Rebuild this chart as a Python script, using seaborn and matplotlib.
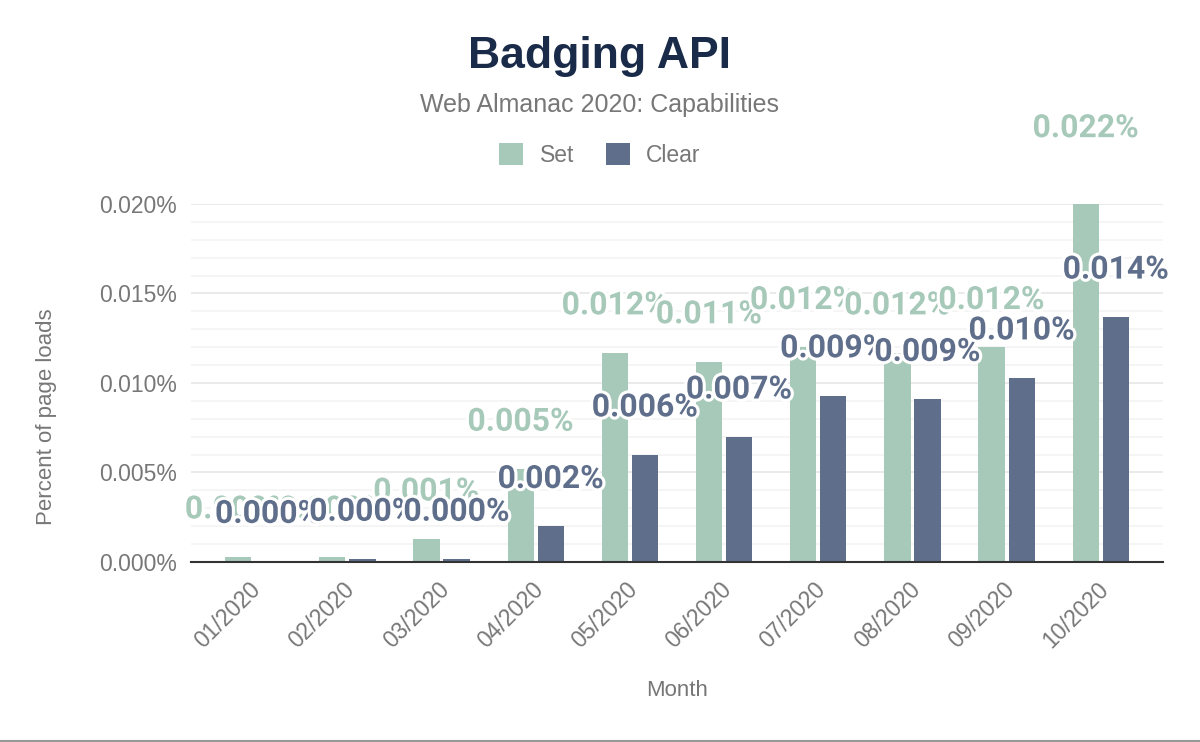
import matplotlib
matplotlib.use("Agg")
import matplotlib.pyplot as plt
import matplotlib.patheffects as pe
from matplotlib.ticker import MultipleLocator, FuncFormatter
from matplotlib.transforms import ScaledTranslation
import seaborn as sns
import pandas as pd

# ---- data ----
months = ["01/2020", "02/2020", "03/2020", "04/2020", "05/2020",
          "06/2020", "07/2020", "08/2020", "09/2020", "10/2020"]
set_values = [0.0003, 0.0003, 0.0013, 0.0052, 0.0117, 0.0112, 0.0120, 0.0117, 0.0120, 0.0216]
clear_values = [0.00005, 0.00017, 0.00017, 0.0020, 0.0060, 0.0070, 0.0093, 0.0091, 0.0103, 0.0137]
series_names = ["Set", "Clear"]

title = "Badging API"
subtitle = "Web Almanac 2020: Capabilities"
x_label = "Month"
y_label = "Percent of page loads"

colors = {"Set": "#a7c9b9", "Clear": "#5f6f8b"}
grey = "#777777"

df = pd.DataFrame({
    "Month": months * 2,
    "Series": ["Set"] * len(months) + ["Clear"] * len(months),
    "Value": set_values + clear_values,
})

sns.set_theme(style="white")
plt.rcParams["font.family"] = ["Liberation Sans", "DejaVu Sans"]

W, H = 1200, 742
fig = plt.figure(figsize=(W / 100, H / 100), dpi=100)
ax = fig.add_axes([191 / W, 1 - 562 / H, (1163 - 191) / W, (562 - 204) / H])

sns.barplot(data=df, x="Month", y="Value", hue="Series", hue_order=series_names,
            palette=colors, width=0.64, gap=0.13, saturation=1, ax=ax,
            linewidth=0, zorder=3)

ax.set_ylim(0, 0.020)
ax.set_xlim(-0.66, 9.66)

ax.yaxis.set_major_locator(MultipleLocator(0.005))
ax.yaxis.set_minor_locator(MultipleLocator(0.001))
ax.yaxis.set_major_formatter(FuncFormatter(lambda v, p: f"{v:.3f}%"))
ax.grid(axis="y", which="major", color="#e6e6e6", linewidth=1.2, zorder=0)
ax.grid(axis="y", which="minor", color="#f3f3f3", linewidth=1.2, zorder=0)
ax.grid(axis="x", visible=False)
ax.set_axisbelow(True)

for s in ["top", "right", "left"]:
    ax.spines[s].set_visible(False)
ax.spines["bottom"].set_color("#333333")
ax.spines["bottom"].set_linewidth(1.5)
ax.spines["bottom"].set_zorder(4)

ax.tick_params(axis="y", which="both", length=0, labelsize=16.5, labelcolor=grey, pad=10)
ax.tick_params(axis="x", length=0, labelsize=16.5, labelcolor=grey, pad=17)
for lab in ax.get_xticklabels():
    lab.set_rotation(45)
    lab.set_ha("right")
    lab.set_va("center")
    lab.set_rotation_mode("anchor")
    lab.set_transform(lab.get_transform() + ScaledTranslation(4 / 100, 0, fig.dpi_scale_trans))

ax.set_xlabel(x_label, fontsize=16, color=grey, labelpad=0)
ax.xaxis.set_label_coords(0.5, -(690 - 562) / (562 - 204))
ax.xaxis.label.set_va("center")
ax.set_ylabel(y_label, fontsize=16, color=grey)
ax.yaxis.set_label_coords(-(191 - 47) / (1163 - 191), (562 - 417) / (562 - 204))
ax.yaxis.label.set_va("center")

# data labels
halo = [pe.withStroke(linewidth=4.5, foreground="white")]
for i, (name, vals) in enumerate(zip(series_names, [set_values, clear_values])):
    cont = ax.containers[i]
    for patch, v in zip(cont.patches, vals):
        cx = patch.get_x() + patch.get_width() / 2
        ax.annotate(f"{v:.3f}%", xy=(cx, v), xytext=(0, 27.5), textcoords="offset points",
                    ha="center", va="baseline", fontsize=23, fontweight="bold",
                    family=["Roboto", "DejaVu Sans"], color=colors[name],
                    path_effects=halo, zorder=10 + i, annotation_clip=False)

# legend
handles, labels = ax.get_legend_handles_labels()
if ax.legend_ is not None:
    ax.legend_.remove()
fig.legend(handles, labels, loc="center", bbox_to_anchor=(0.5, 1 - 155 / H), ncol=2,
           frameon=False, fontsize=16.5, labelcolor=grey, handlelength=1.05, handleheight=1.05,
           handletextpad=0.7, columnspacing=1.4)

fig.text(0.5, 1 - 68 / H, title, ha="center", va="baseline", fontsize=32,
         fontweight="bold", color="#1a2b49")
fig.text(0.5, 1 - 112 / H, subtitle, ha="center", va="baseline", fontsize=18, color=grey)

fig.add_artist(plt.Line2D([0, 1], [1 / H, 1 / H], color="#999999", linewidth=1.5,
                          transform=fig.transFigure))

fig.savefig("out.png", dpi=100, facecolor="white")
